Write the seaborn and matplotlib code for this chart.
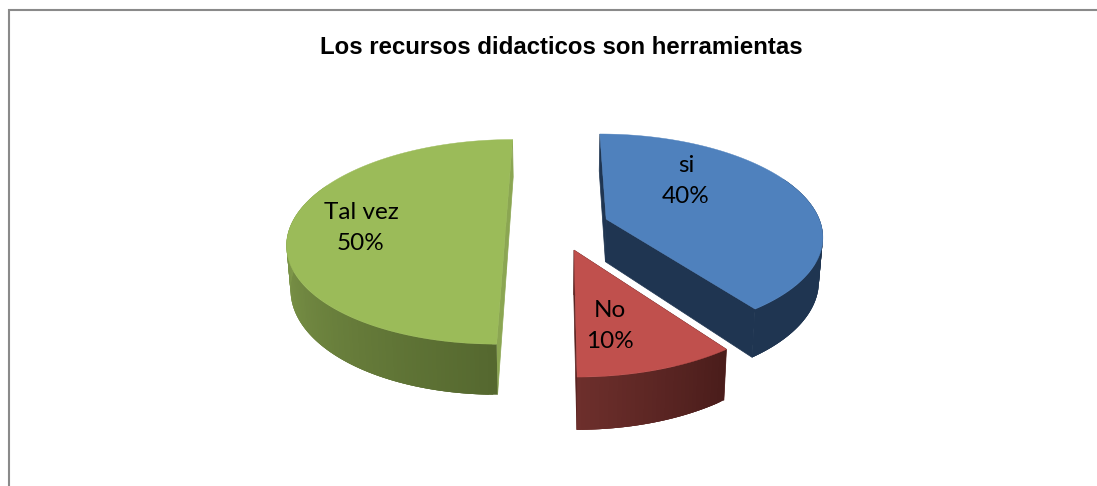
import numpy as np
import matplotlib
matplotlib.use("Agg")
import matplotlib.pyplot as plt
import seaborn as sns

categories = ['si', 'No', 'Tal vez']
values = [40, 10, 50]
title = 'Los recursos didacticos son herramientas'

top_colors = ['#4f81bd', '#c0504d', '#9bbb59']
side_from = ['#1f3551', '#4a1d1b', '#55682f']   # start of the arc
side_to = ['#1f3551', '#6e2f2c', '#8ba652']     # end of the visible arc
cut_colors = ['#1f3551', '#5a2422', '#8ba652']
label_xy = [(686, 181), (610, 326), (361, 228)]

# 3d pie layout, in pixels
CX, CY = 557.5, 226.5
RX, RY = 215.5, 100
PERSP = 0.15
DEPTH = 43
EXPLODE = 0.24

sns.set_theme(style='white')
plt.rcParams['font.family'] = ['Lato', 'DejaVu Sans']


def project(x, y, z=0.0):
    w = 1 + PERSP * y
    sx = CX + RX * x / w
    sy = CY - RY * y / w + z * DEPTH / w
    sx = CX + (sx - CX) * (1 - 0.015 * z)
    return sx, sy


fig = plt.figure(figsize=(10.97, 4.86), dpi=100)
ax = fig.add_axes([0, 0, 1, 1])
ax.set_xlim(0, 1097)
ax.set_ylim(486, 0)
ax.axis('off')

# marco del grafico
ax.plot([8.5, 8.5, 1097], [486, 10.5, 10.5], color='#8a8a8a', lw=1.5, solid_joinstyle='miter')

ax.text(561, 47.5, title, ha='center', va='center', fontsize=17.25, fontweight='bold',
        family='Liberation Sans', color='black')

shares = np.array(values) / sum(values) * 360
starts = np.concatenate([[0], np.cumsum(shares)[:-1]])

# el orden: atras primero, la porcion roja queda delante
for i in [2, 0, 1]:
    a0, a1 = starts[i], starts[i] + shares[i]
    mid = np.radians((a0 + a1) / 2)
    ox, oy = EXPLODE * np.sin(mid), EXPLODE * np.cos(mid)
    theta = np.radians(np.arange(a0, a1 + 0.5, 1.0))
    arc_x, arc_y = ox + np.sin(theta), oy + np.cos(theta)

    # caras de corte
    for t in [theta[0], theta[-1]]:
        ex, ey = ox + np.sin(t), oy + np.cos(t)
        quad = [project(ox, oy), project(ex, ey), project(ex, ey, 1), project(ox, oy, 1)]
        ax.fill(*zip(*quad), color=cut_colors[i], lw=0.5)

    # lado exterior con degradado, tiras solapadas para que no se vean costuras
    front = np.where(np.cos(theta) < 0.45)[0]
    if i == 2:
        front = front[front < 115]
    shades = sns.blend_palette([side_from[i], side_to[i]], n_colors=max(len(front), 2))
    for n, k in enumerate(front[:-1]):
        k2 = min(k + 3, len(theta) - 1)
        idx = np.arange(k, k2 + 1)
        upper = [project(arc_x[j], arc_y[j]) for j in idx]
        lower = [project(arc_x[j], arc_y[j], 1) for j in idx[::-1]]
        ax.fill(*zip(*(upper + lower)), color=shades[n], lw=0)

    # cara superior
    px, py = project(np.r_[ox, arc_x], np.r_[oy, arc_y])
    ax.fill(px, py, color=top_colors[i], lw=0.3)

for cat, val, (lx, ly) in zip(categories, values, label_xy):
    ax.text(lx, ly, f'{cat}\n{val}%', ha='center', va='center', fontsize=17.5, linespacing=1.6,
            color='black')

fig.savefig('out.png', dpi=100, facecolor='white')
